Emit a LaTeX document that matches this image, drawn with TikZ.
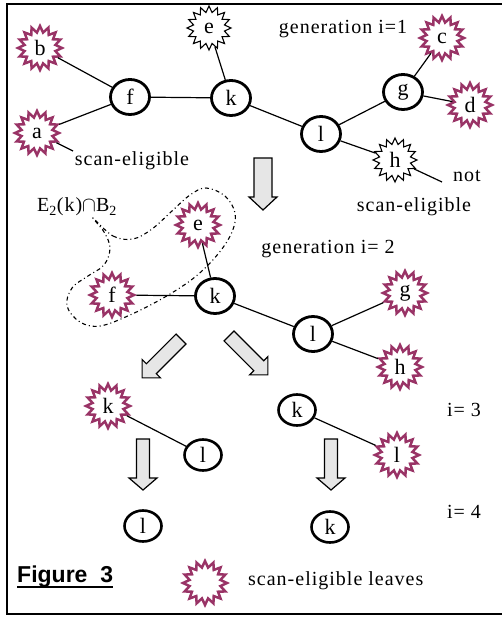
\documentclass[tikz,border=0pt]{standalone}
\usepackage{fontspec}
\setmainfont{Liberation Serif}
\newfontfamily\spaced{Liberation Serif}[LetterSpace=5]
\newfontfamily\figfont{Liberation Sans}
\usetikzlibrary{shapes.geometric}
\definecolor{plum}{RGB}{153,51,102}
\definecolor{arrowgray}{RGB}{230,230,230}
\newcommand{\nodefont}{\fontsize{22}{24}\selectfont}
\newcommand{\lblfont}{\spaced\fontsize{20}{24}\selectfont}
\tikzset{
  barrow/.style={draw, fill=arrowgray, line width=1.2pt, line join=miter},
  bigarrow/.pic={\draw[barrow] (-9,0) -- (9,0) -- (9,39) -- (14,39) -- (0,52) -- (-14,39) -- (-9,39) -- cycle;},
  thinarrow/.pic={\draw[barrow] (-6.5,0) -- (6.5,0) -- (6.5,39) -- (14,39) -- (0,51) -- (-14,39) -- (-6.5,39) -- cycle;},
  diagarrow/.pic={\draw[barrow] (-7,0) -- (7,0) -- (7,42) -- (13,42) -- (0,55) -- (-13,42) -- (-7,42) -- cycle;}
}
\begin{document}
\begin{tikzpicture}[x=1pt,y=-1pt,
  circ/.style={draw, ellipse, line width=2.8pt, minimum width=39pt, minimum height=35pt, inner sep=0pt, font=\nodefont},
  scirc/.style={circ, line width=2.6pt, minimum width=37pt, minimum height=31pt},
  mstar/.style={draw=plum, fill=white, star, star points=16, star point ratio=1.4, line width=2.5pt, minimum size=44pt, inner sep=0pt, font=\nodefont},
  bstar/.style={mstar, draw=black, line width=1.1pt},
  edge/.style={line width=1.2pt},
  lbl/.style={inner sep=0pt, anchor=base, font=\lblfont}
]
\useasboundingbox (0,0) rectangle (502,617);
% frame
\draw[line width=2.4pt] (510,4) -- (7,4) -- (7,614) -- (510,614);

% ---------- generation 1 ----------
\node[mstar] (b1) at (40,48) {b};
\node[mstar] (a1) at (37,133) {a};
\node[circ] (f1) at (130,97) {f};
\node[bstar] (e1) at (209,28) {e};
\node[circ] (k1) at (231,98) {k};
\node[circ] (l1) at (321,134) {l};
\node[circ] (g1) at (403,92) {g};
\node[mstar] (c1) at (442,38) {c};
\node[mstar] (d1) at (470,105) {d};
\node[bstar] (h1) at (395,160) {h};
\draw[edge] (b1) -- (f1);
\draw[edge] (a1) -- (f1);
\draw[edge] (f1) -- (k1);
\draw[edge] (e1) -- (k1);
\draw[edge] (k1) -- (l1);
\draw[edge] (l1) -- (g1);
\draw[edge] (g1) -- (c1);
\draw[edge] (g1) -- (d1);
\draw[edge] (l1) -- (h1);
\node[lbl] (gen1) at (343,34) {generation i=1};
\node[lbl] (se1) at (132,166) {scan-eligible};
\coordinate (se1p) at (73,151);
\draw[edge] (a1) -- (se1p);
\node[lbl] (not) at (467,182) {not};
\node[lbl] (se2) at (414,212) {scan-eligible};
\coordinate (notp) at (442,182);
\draw[edge] (h1) -- (notp);

\pic at (263,158) {bigarrow};

% ---------- generation 2 ----------
\draw[line width=1.1pt, dash pattern=on 4pt off 3pt on 1pt off 3pt]
  plot[smooth cycle, tension=0.6] coordinates {
   (93,218) (113,236) (133,239) (152,229) (172,211) (190,195) (206,188) (225,196) (235,213) (232,232) (218,254) (195,277) (165,297) (130,315) (100,326) (80,322) (67,306) (72,288) (88,276) (104,265) (110,248) (104,232)};
\node[mstar] (e2) at (198,225) {e};
\node[mstar] (f2) at (112,295) {f};
\node[circ] (k2) at (215,296) {k};
\node[circ] (l2) at (313,334) {l};
\node[mstar] (g2) at (405,293) {g};
\node[mstar] (h2) at (400,367) {h};
\draw[edge] (e2) -- (k2);
\draw[edge] (f2) -- (k2);
\draw[edge] (k2) -- (l2);
\draw[edge] (l2) -- (g2);
\draw[edge] (l2) -- (h2);
\node[lbl] (eb) at (77,212) {E\textsubscript{2}(k)$\cap$B\textsubscript{2}};
\node[lbl] (gen2) at (328,253) {generation i= 2};

\pic[rotate=-45] at (181,339) {diagarrow};
\pic[rotate=45] at (229,336) {diagarrow};

% ---------- generation 3 ----------
\node[mstar] (k3a) at (108,406) {k};
\node[scirc] (l3a) at (203,455) {l};
\node[scirc] (k3b) at (297,410) {k};
\node[mstar] (l3b) at (397,455) {l};
\draw[edge] (k3a) -- (l3a);
\draw[edge] (k3b) -- (l3b);
\node[lbl] (i3) at (464,416) {i= 3};

\pic at (143,439) {thinarrow};
\pic at (331,439) {thinarrow};

% ---------- generation 4 ----------
\node[scirc] (l4) at (143,526) {l};
\node[scirc] (k4) at (330,527) {k};
\node[lbl] (i4) at (464,518) {i= 4};

% ---------- legend ----------
\node[inner sep=0pt, anchor=base west, font=\figfont\bfseries\fontsize{23}{26}\selectfont] (fig) at (17,582) {Figure\ \ 3};
\draw[line width=2pt] ([yshift=-5pt]fig.base west) -- ([yshift=-5pt]fig.base east);
\node[mstar] (leg) at (205,583) {};
\node[lbl, anchor=base west] (legt) at (248,585) {scan-eligible leaves};
\end{tikzpicture}
\end{document}
